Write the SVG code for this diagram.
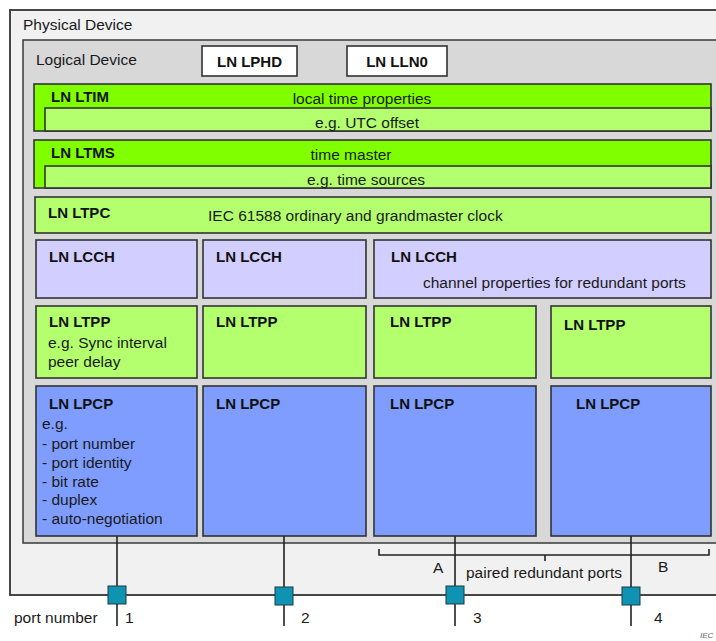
<svg xmlns="http://www.w3.org/2000/svg" width="716" height="641" viewBox="0 0 716 641">
<style>
.t{font-family:"Liberation Sans",Arial,sans-serif;font-size:15.5px;fill:#1a1a1a}
.b{font-family:"Liberation Sans",Arial,sans-serif;font-size:15px;font-weight:bold;fill:#111}
.box{stroke:#333;stroke-width:1.6}
.g1{fill:#80ff00}
.g2{fill:#b3ff6e}
.lav{fill:#d2ceff}
.blu{fill:#7f9dff}
.wire{stroke:#222;stroke-width:1.6;fill:none}
.port{fill:#0e93b3;stroke:#1a3a44;stroke-width:1}
</style>
<rect width="716" height="641" fill="#ffffff"/>
<g id="physical-device">
<rect x="10" y="10" width="720" height="585" fill="#f1f1f1" stroke="#333" stroke-width="1.8"/>
<text class="t" x="23" y="30">Physical Device</text>
</g>
<g id="logical-device">
<rect x="23" y="40" width="700" height="503" fill="#d8d8d8" stroke="#444" stroke-width="1.6"/>
<text class="t" x="36" y="65">Logical Device</text>
</g>
<g id="ln-lphd">
<rect class="box" x="202" y="46" width="95" height="30" fill="#fff"/>
<text class="b" x="249.5" y="67" text-anchor="middle">LN LPHD</text>
</g>
<g id="ln-lln0">
<rect class="box" x="347" y="46" width="100" height="30" fill="#fff"/>
<text class="b" x="397" y="67" text-anchor="middle">LN LLN0</text>
</g>
<g id="ln-ltim">
<rect class="box g1" x="34" y="84" width="677" height="47"/>
<rect class="box g2" x="45" y="108" width="666" height="23"/>
<text class="b" x="51" y="102">LN LTIM</text>
<text class="t" x="362" y="104" text-anchor="middle">local time properties</text>
<text class="t" x="367" y="128" text-anchor="middle">e.g. UTC offset</text>
</g>
<g id="ln-ltms">
<rect class="box g1" x="34" y="140" width="677" height="48"/>
<rect class="box g2" x="45" y="166" width="666" height="22"/>
<text class="b" x="51" y="158">LN LTMS</text>
<text class="t" x="351" y="160" text-anchor="middle">time master</text>
<text class="t" x="366" y="185" text-anchor="middle">e.g. time sources</text>
</g>
<g id="ln-ltpc">
<rect class="box g2" x="35" y="197" width="676" height="36"/>
<text class="b" x="48" y="218">LN LTPC</text>
<text class="t" x="208" y="221">IEC 61588 ordinary and grandmaster clock</text>
</g>
<g id="ln-lcch-1">
<rect class="box lav" x="36" y="240" width="161" height="58"/>
<text class="b" x="49" y="262">LN LCCH</text>
</g>
<g id="ln-lcch-2">
<rect class="box lav" x="203" y="240" width="163" height="58"/>
<text class="b" x="216" y="262">LN LCCH</text>
</g>
<g id="ln-lcch-3">
<rect class="box lav" x="374" y="240" width="337" height="58"/>
<text class="b" x="391" y="262">LN LCCH</text>
<text class="t" x="423" y="288">channel properties for redundant ports</text>
</g>
<g id="ln-ltpp-1">
<rect class="box g2" x="36" y="306" width="161" height="72"/>
<text class="b" x="49" y="327">LN LTPP</text>
<text class="t" x="48" y="348">e.g. Sync interval</text>
<text class="t" x="48" y="367">peer delay</text>
</g>
<g id="ln-ltpp-2">
<rect class="box g2" x="203" y="306" width="163" height="72"/>
<text class="b" x="216" y="327">LN LTPP</text>
</g>
<g id="ln-ltpp-3">
<rect class="box g2" x="374" y="306" width="162" height="72"/>
<text class="b" x="390" y="327">LN LTPP</text>
</g>
<g id="ln-ltpp-4">
<rect class="box g2" x="551" y="306" width="160" height="72"/>
<text class="b" x="564" y="330">LN LTPP</text>
</g>
<g id="ln-lpcp-1">
<rect class="box blu" x="36" y="386" width="161" height="150"/>
<text class="b" x="49" y="409">LN LPCP</text>
<text class="t" x="42" y="429">e.g.</text>
<text class="t" x="42" y="449">- port number</text>
<text class="t" x="42" y="468">- port identity</text>
<text class="t" x="42" y="487">- bit rate</text>
<text class="t" x="42" y="505">- duplex</text>
<text class="t" x="42" y="524">- auto-negotiation</text>
</g>
<g id="ln-lpcp-2">
<rect class="box blu" x="203" y="386" width="163" height="150"/>
<text class="b" x="216" y="409">LN LPCP</text>
</g>
<g id="ln-lpcp-3">
<rect class="box blu" x="374" y="386" width="162" height="150"/>
<text class="b" x="390" y="409">LN LPCP</text>
</g>
<g id="ln-lpcp-4">
<rect class="box blu" x="551" y="386" width="160" height="150"/>
<text class="b" x="576" y="409">LN LPCP</text>
</g>
<g id="connectors">
<line class="wire" x1="117" y1="536" x2="117" y2="626"/>
<line class="wire" x1="284" y1="536" x2="284" y2="626"/>
<line class="wire" x1="455" y1="536" x2="455" y2="626"/>
<line class="wire" x1="631" y1="536" x2="631" y2="626"/>
<path class="wire" d="M379 549 V555 H709 V549 M545 555 V561"/>
</g>
<g id="port-1"><rect class="port" x="108" y="586" width="18" height="18"/><text class="t" x="125" y="623">1</text></g>
<g id="port-2"><rect class="port" x="275" y="587" width="18" height="18"/><text class="t" x="301" y="623">2</text></g>
<g id="port-3"><rect class="port" x="446" y="586" width="18" height="18"/><text class="t" x="473" y="623">3</text></g>
<g id="port-4"><rect class="port" x="622" y="587" width="18" height="18"/><text class="t" x="654" y="623">4</text></g>
<g id="labels">
<text class="t" x="14" y="623">port number</text>
<text class="t" x="433" y="573">A</text>
<text class="t" x="466" y="578">paired redundant ports</text>
<text class="t" x="658" y="572">B</text>
<text x="700" y="638" font-family="Liberation Sans,Arial,sans-serif" font-size="8" font-style="italic" fill="#666">IEC</text>
</g>
</svg>
